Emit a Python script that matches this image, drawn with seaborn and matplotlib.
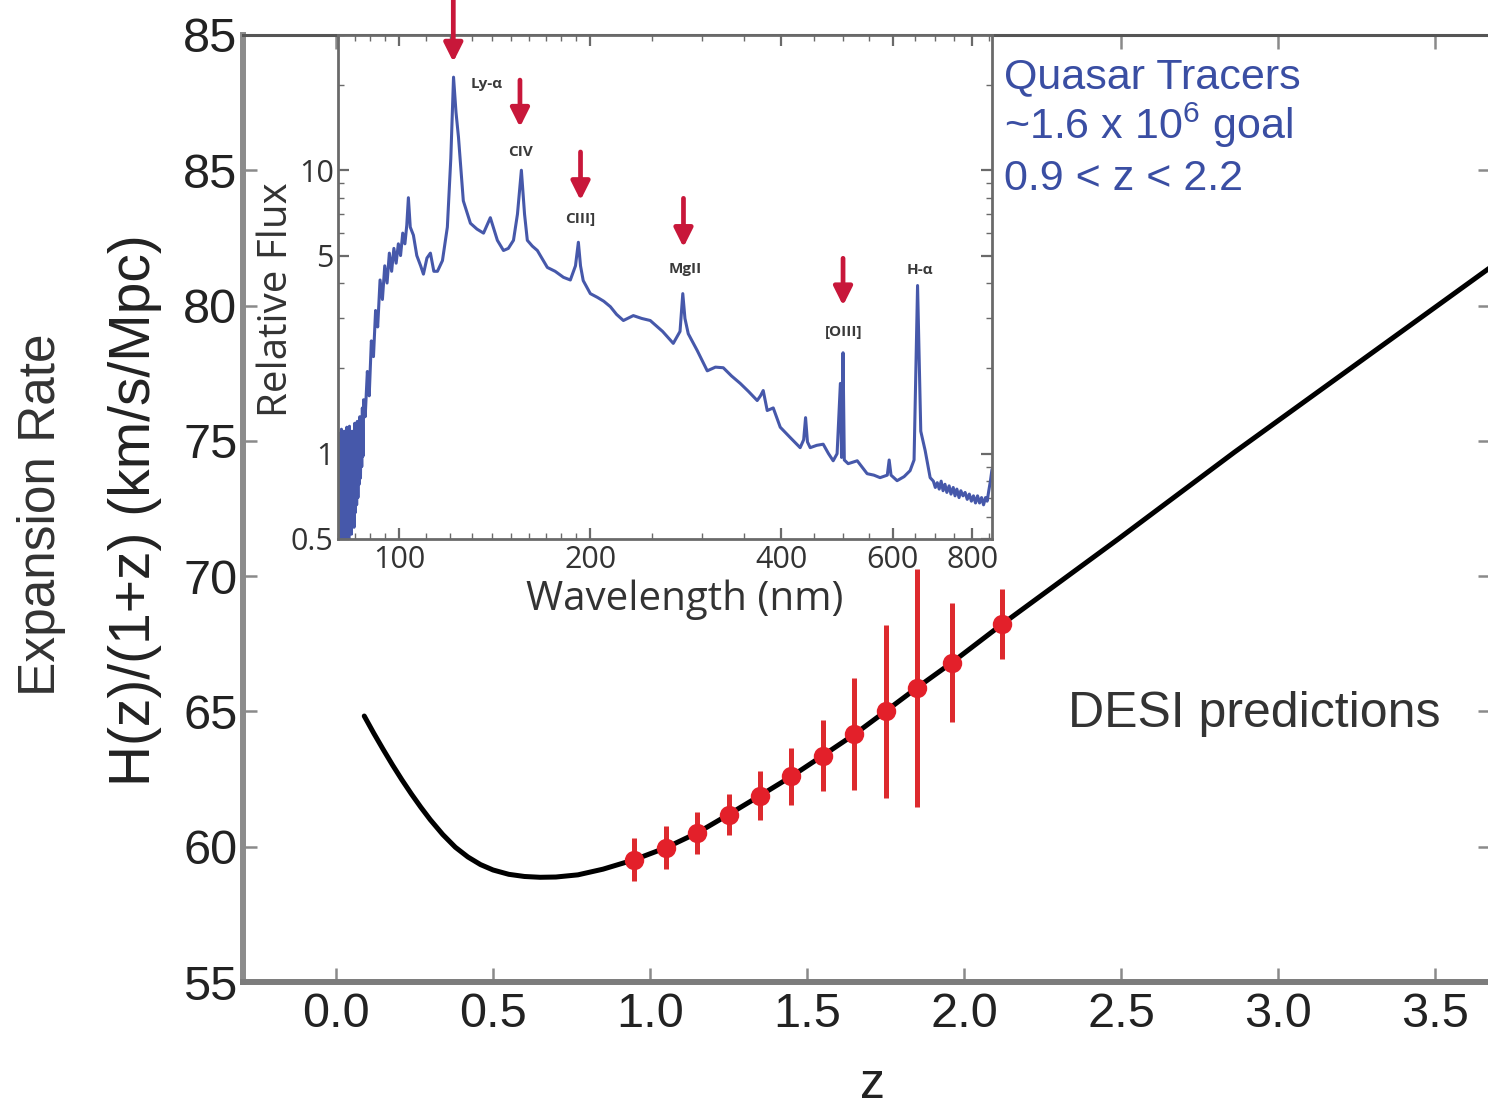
import matplotlib
matplotlib.use("Agg")
import matplotlib.pyplot as plt
import seaborn as sns
from matplotlib.ticker import FixedLocator, FixedFormatter, NullFormatter, LogLocator

# ---------------------------------------------------------------- data
# Expansion-rate model curve H(z)/(1+z)
curve_z = [0.09, 0.12, 0.15, 0.18, 0.21, 0.24, 0.27, 0.30, 0.34, 0.38, 0.42, 0.46, 0.50,
           0.55, 0.60, 0.65, 0.70, 0.77, 0.85,
           0.95, 1.05, 1.15, 1.25, 1.35, 1.45, 1.55, 1.65, 1.75, 1.85, 1.96, 2.12,
           2.49, 2.86, 3.67, 3.80]
curve_h = [64.83, 64.20, 63.60, 63.02, 62.47, 61.95, 61.46, 61.00, 60.45, 59.98, 59.62, 59.34, 59.14,
           58.98, 58.90, 58.87, 58.88, 58.96, 59.17,
           59.52, 59.96, 60.51, 61.19, 61.89, 62.60, 63.37, 64.15, 65.01, 65.88, 66.80, 68.22,
           71.37, 74.58, 81.37, 82.45]

# DESI quasar forecast
desi_z = [0.95, 1.05, 1.15, 1.25, 1.35, 1.45, 1.55, 1.65, 1.75, 1.85, 1.96, 2.12]
desi_h = [59.52, 59.96, 60.51, 61.19, 61.89, 62.60, 63.37, 64.15, 65.01, 65.88, 66.80, 68.22]
desi_err = [0.80, 0.80, 0.77, 0.77, 0.90, 1.05, 1.30, 2.07, 3.20, 4.40, 2.20, 1.30]

y_tick_values = [55, 60, 65, 70, 75, 80, 85, 90]
y_tick_labels = ["55", "60", "65", "70", "75", "80", "85", "85"]
x_tick_values = [0.0, 0.5, 1.0, 1.5, 2.0, 2.5, 3.0, 3.5]
x_tick_labels = ["0.0", "0.5", "1.0", "1.5", "2.0", "2.5", "3.0", "3.5"]

# Composite quasar spectrum (rest wavelength in nm, relative flux)
spec_wl = [
    80.0, 80.2, 80.4, 80.6, 80.8, 81.0, 81.2, 81.4, 81.6, 81.8,
    82.0, 82.2, 82.4, 82.6, 82.8, 83.0, 83.2, 83.4, 83.6, 83.8,
    84.0, 84.2, 84.4, 84.6, 84.8, 85.0, 85.2, 85.4, 85.6, 85.8,
    86.0, 86.2, 86.4, 86.6, 86.8, 87.0, 87.2, 87.4, 87.6, 87.8,
    88.3, 89.0, 89.6, 90.3, 91.0, 91.7, 92.4, 93.2, 94.0, 94.8,
    95.6, 96.4, 97.2, 98.0, 98.8, 99.6, 100.4, 101.2, 102.0, 102.7,
    103.3, 104.0, 105.2, 106.5, 108.0, 109.1, 110.5, 111.9, 113.3, 114.8,
    116.9, 119.0, 120.5, 121.7, 122.8, 123.9, 126.1, 129.4, 132.5, 135.7,
    139.1, 142.7, 145.9, 148.5, 151.3, 153.5, 155.7, 157.5, 159.1, 162.0,
    165.0, 171.1, 176.0, 181.4, 186.0, 189.5, 191.5, 193.0, 194.9, 200.0,
    205.2, 210.0, 215.1, 220.0, 225.5, 233.8, 241.0, 248.6, 260.0, 270.3,
    277.0, 279.8, 282.0, 285.4, 294.9, 305.8, 315.0, 324.1, 334.0, 344.7,
    355.0, 366.6, 371.0, 374.7, 380.2, 388.6, 398.6, 413.3, 428.5, 434.0,
    437.0, 440.0, 444.4, 455.0, 465.9, 475.0, 483.1, 490.0, 495.9, 498.0,
    500.7, 503.0, 510.1, 527.2, 546.5, 560.0, 572.8, 588.0, 592.0, 596.0,
    609.3, 625.0, 638.7, 648.0, 656.3, 664.0, 674.7, 687.0, 695.0, 700.0,
    705.0, 710.0, 715.0, 720.0, 725.0, 730.0, 736.0, 741.0, 747.0, 752.0,
    757.0, 763.0, 768.0, 774.0, 780.0, 786.0, 792.0, 798.0, 804.0, 810.0,
    816.0, 822.0, 828.0, 834.0, 840.0, 845.0, 850.0, 855.0, 860.0,
]
spec_flux = [
    0.48, 1.10, 0.52, 1.18, 0.50, 1.22, 0.55, 1.05, 0.49, 1.20,
    0.53, 1.15, 0.48, 1.24, 0.56, 1.10, 0.50, 1.25, 0.58, 1.18,
    0.52, 1.20, 0.60, 1.12, 0.55, 1.28, 0.62, 1.22, 0.66, 1.30,
    0.70, 1.25, 0.78, 1.35, 0.82, 1.30, 0.90, 1.45, 0.98, 1.55,
    1.35, 1.95, 1.60, 2.50, 2.20, 3.20, 2.80, 4.10, 3.50, 4.60,
    4.00, 5.10, 4.40, 5.30, 4.70, 5.50, 5.00, 6.00, 5.50, 6.40,
    8.00, 6.30, 5.90, 5.00, 4.60, 4.30, 4.90, 5.10, 4.40, 4.40,
    4.80, 6.30, 11.0, 21.3, 16.0, 13.1, 7.80, 6.50, 6.20, 6.00,
    6.80, 5.66, 5.21, 5.30, 5.66, 7.00, 10.0, 7.00, 5.66, 5.40,
    5.21, 4.54, 4.40, 4.19, 4.10, 4.60, 5.57, 4.60, 4.08, 3.67,
    3.56, 3.45, 3.30, 3.10, 2.95, 3.07, 3.00, 2.95, 2.70, 2.45,
    2.70, 3.67, 3.00, 2.65, 2.31, 1.96, 2.02, 2.01, 1.88, 1.77,
    1.66, 1.54, 1.60, 1.67, 1.42, 1.45, 1.24, 1.14, 1.05, 1.12,
    1.34, 1.10, 1.05, 1.07, 1.08, 1.00, 0.944, 1.00, 1.77, 0.97,
    2.27, 0.95, 0.922, 0.944, 0.85, 0.84, 0.823, 0.84, 0.95, 0.84,
    0.803, 0.83, 0.871, 0.95, 3.92, 1.20, 1.025, 0.823, 0.80, 0.76,
    0.79, 0.75, 0.80, 0.74, 0.78, 0.73, 0.77, 0.72, 0.76, 0.71,
    0.75, 0.70, 0.74, 0.71, 0.73, 0.69, 0.72, 0.68, 0.71, 0.67,
    0.71, 0.67, 0.70, 0.66, 0.70, 0.68, 0.74, 0.80, 0.88,
]

# Emission-line markers: arrow position, arrow top/tip flux
arrow_wl = [121.6, 154.9, 193.0, 280.5, 500.7]
arrow_top = [45.0, 20.8, 11.6, 7.96, 4.89]
arrow_tip = [24.1, 14.2, 7.83, 5.35, 3.33]

line_names = ["Ly-\u03b1", "CIV", "CIII]", "MgII", "[OIII]", "H-\u03b1"]
line_wl = [137.5, 155.2, 192.9, 282.3, 501.0, 662.5]
line_flux = [20.2, 11.6, 6.75, 4.49, 2.68, 4.43]

inset_x_ticks = [100, 200, 400, 600, 800]
inset_y_ticks = [0.5, 1, 5, 10]
inset_y_labels = ["0.5", "1", "5", "10"]

# ---------------------------------------------------------------- style
sns.set_theme(style="ticks")
plt.rcParams["font.family"] = ["Liberation Sans", "DejaVu Sans"]
plt.rcParams["mathtext.fontset"] = "custom"
plt.rcParams["mathtext.rm"] = "Liberation Sans"
plt.rcParams["mathtext.it"] = "Liberation Sans:italic"
plt.rcParams["mathtext.bf"] = "Liberation Sans:bold"

W, H = 1488, 1107
fig = plt.figure(figsize=(W / 100, H / 100), dpi=100)
fig.patch.set_facecolor("white")


def fx(px):
    return px / W


def fy(py):
    return 1 - py / H


# ---------------------------------------------------------------- main panel
ax = fig.add_axes([fx(243), fy(982), (1492 - 243) / W, (982 - 35) / H])
ax.set_facecolor("white")
ax.set_xlim(-0.296, 3.68)
ax.set_ylim(55, 90)

sns.lineplot(x=curve_z, y=curve_h, ax=ax, color="black", linewidth=3.6,
             sort=False, estimator=None, zorder=3)
ax.lines[-1].set_solid_joinstyle("round")
ax.errorbar(desi_z, desi_h, yerr=desi_err, fmt="o", color="#e3202a",
            ecolor="#dd2a2e", elinewidth=3.6, capsize=0, markersize=14,
            markeredgewidth=0, zorder=4)

ax.set_xticks(x_tick_values)
ax.set_xticklabels(x_tick_labels)
ax.set_yticks(y_tick_values)
ax.set_yticklabels(y_tick_labels)
ax.tick_params(axis="both", direction="in", length=10, width=1.8, color="#8a8a8a",
               labelsize=35, labelcolor="#222222", top=True, right=True)
ax.tick_params(axis="x", pad=7)
ax.tick_params(axis="y", pad=4)

for side, col, lw in [("left", "#8c8c8c", 4.3), ("bottom", "#7c7c7c", 4.3),
                      ("top", "#555555", 2.2), ("right", "#555555", 2.2)]:
    ax.spines[side].set_color(col)
    ax.spines[side].set_linewidth(lw)

ax.set_xlabel("z", fontsize=36, color="#222222")
ax.xaxis.set_label_coords((873 - 243) / 1249, (982 - 1085) / 947)
ax.xaxis.label.set_verticalalignment("center")
ax.set_ylabel("H(z)/(1+z) (km/s/Mpc)", fontsize=41, color="#222222")
ax.yaxis.set_label_coords((135 - 243) / 1249, (982 - 510) / 947)
ax.yaxis.label.set_verticalalignment("center")

fig.text(fx(42), fy(515), "Expansion Rate", rotation=90, fontsize=37,
         color="#333333", ha="center", va="center")

fig.text(fx(1068), fy(727), "DESI predictions", fontsize=36, color="#333333",
         ha="left", va="baseline")

blue = "#3a4ea3"
fig.text(fx(1004), fy(88), "Quasar Tracers", fontsize=31, color=blue, va="baseline")
fig.text(fx(1004), fy(139), r"~1.6 x 10$^{\mathregular{6}}$ goal", fontsize=31,
         color=blue, va="baseline")
fig.text(fx(1004), fy(190), "0.9 < z < 2.2", fontsize=31, color=blue, va="baseline")

# ---------------------------------------------------------------- spectrum inset
ins = fig.add_axes([fx(338), fy(539), (992 - 338) / W, (539 - 35) / H])
ins.set_facecolor("white")
ins.set_xscale("log")
ins.set_yscale("log")
ins.set_xlim(80, 860)
ins.set_ylim(0.5, 30)

sns.lineplot(x=spec_wl, y=spec_flux, ax=ins, color="#4658aa", linewidth=2.2,
             sort=False, estimator=None)

ins.xaxis.set_major_locator(FixedLocator(inset_x_ticks))
ins.xaxis.set_major_formatter(FixedFormatter([str(v) for v in inset_x_ticks]))
ins.xaxis.set_minor_locator(LogLocator(base=10, subs=[1, 1.1, 1.2, 1.3, 1.4, 1.5, 1.6, 1.7, 1.8, 1.9,
                                                      2, 2.5, 3, 3.5, 4, 4.5, 5, 5.5, 6, 6.5, 7, 7.5, 8, 8.5, 9, 9.5],
                                       numticks=50))
ins.xaxis.set_minor_formatter(NullFormatter())
ins.yaxis.set_major_locator(FixedLocator(inset_y_ticks))
ins.yaxis.set_major_formatter(FixedFormatter(inset_y_labels))
ins.yaxis.set_minor_locator(LogLocator(base=10, subs=[2, 3, 4, 6, 7, 8, 9], numticks=50))
ins.yaxis.set_minor_formatter(NullFormatter())

ins.tick_params(axis="both", which="both", direction="in", top=True, right=True,
                color="#6a6a6a", labelcolor="#333333")
ins.tick_params(axis="both", which="major", length=8, width=1.6, labelsize=22)
ins.tick_params(axis="both", which="minor", length=4, width=1.0)
ins.tick_params(axis="x", which="major", pad=4)
ins.tick_params(axis="y", which="major", pad=3)
for lab in ins.get_xticklabels() + ins.get_yticklabels():
    lab.set_fontfamily(["Open Sans", "DejaVu Sans"])

for side in ["left", "bottom", "top", "right"]:
    ins.spines[side].set_color("#6a6a6a")
    ins.spines[side].set_linewidth(2.0)

ins.set_xlabel("Wavelength (nm)", fontsize=29, color="#333333",
               fontfamily=["Open Sans", "DejaVu Sans"])
ins.xaxis.set_label_coords((685 - 338) / 654, (539 - 600) / 504)
ins.xaxis.label.set_verticalalignment("center")
ins.set_ylabel("Relative Flux", fontsize=29, color="#333333",
               fontfamily=["Open Sans", "DejaVu Sans"])
ins.yaxis.set_label_coords((277 - 338) / 654, (539 - 300) / 504)
ins.yaxis.label.set_verticalalignment("center")

for wl, top, tip in zip(arrow_wl, arrow_top, arrow_tip):
    ins.annotate("", xy=(wl, tip), xytext=(wl, top), annotation_clip=False,
                 arrowprops=dict(arrowstyle="-|>,head_length=0.7,head_width=0.35",
                                 color="#c8173a", lw=3.4, mutation_scale=16,
                                 shrinkA=0, shrinkB=0))

for name, wl, fl in zip(line_names, line_wl, line_flux):
    ins.text(wl, fl, name, fontsize=11, fontweight="bold", color="#3a3a3a",
             ha="center", va="center", fontfamily=["Open Sans", "DejaVu Sans"])

fig.savefig("out.png", dpi=100, facecolor="white")
